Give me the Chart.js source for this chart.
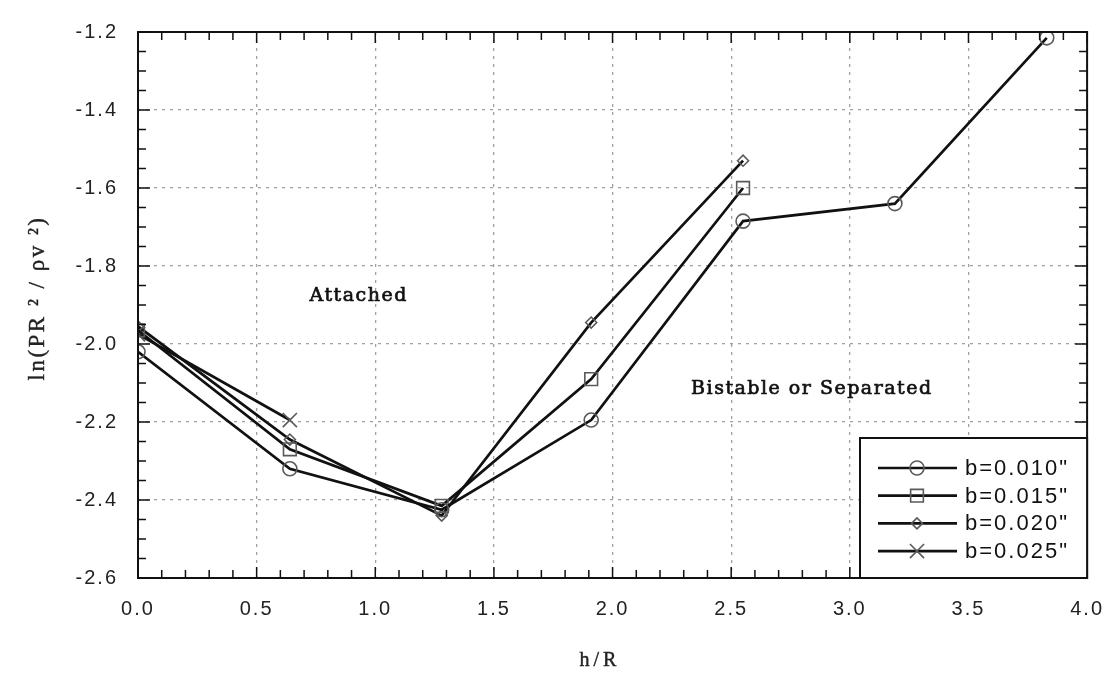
<!DOCTYPE html>
<html>
<head>
<meta charset="utf-8">
<script src="https://cdn.jsdelivr.net/npm/chart.js@4.4.1/dist/chart.umd.min.js"></script>
<style>
  html, body { margin: 0; padding: 0; background: #fff; }
  #wrap { width: 1120px; height: 680px; }
</style>
</head>
<body>
<div id="wrap"><canvas id="c" width="1120" height="680"></canvas></div>
<script>
// h/R positions of the measurements
const hR = [0, 0.64, 1.28, 1.91, 2.55, 3.19, 3.83];

// ln(PR^2/rho v^2) for each gap b
const b010 = [-2.02, -2.32, -2.425, -2.195, -1.685, -1.64, -1.215];
const b015 = [-1.965, -2.27, -2.415, -2.09, -1.60];
const b020 = [-1.955, -2.245, -2.44, -1.945, -1.53];
const b025 = [-1.975, -2.195];

const seriesLabels = ['b=0.010"', 'b=0.015"', 'b=0.020"', 'b=0.025"'];
const xTicks = [0, 0.5, 1.0, 1.5, 2.0, 2.5, 3.0, 3.5, 4.0];
const yTicks = [-2.6, -2.4, -2.2, -2.0, -1.8, -1.6, -1.4, -1.2];

const markerColor = '#5a5a5a';
const lineColor = '#111';

function pts(ys) {
    return ys.map((y, i) => ({ x: hR[i], y: y }));
}

function makeSet(label, ys, style, radius) {
    return {
        label: label,
        data: pts(ys),
        borderColor: lineColor,
        borderWidth: 2.7,
        pointStyle: style,
        pointRadius: radius,
        pointBorderColor: markerColor,
        pointBackgroundColor: 'rgba(0,0,0,0)',
        pointBorderWidth: 1.6,
        tension: 0,
        fill: false
    };
}

const datasets = [
    makeSet(seriesLabels[0], b010, 'circle', 7),
    makeSet(seriesLabels[1], b015, 'rect', 9),
    makeSet(seriesLabels[2], b020, 'rectRot', 5.5),
    makeSet(seriesLabels[3], b025, 'crossRot', 10)
];

// letter spacing like the scanned figure
const spacing = {
    id: 'spacing',
    beforeDraw(chart) {
        chart.ctx.letterSpacing = '2px';
    }
};

function heavyText(ctx, txt, x, y) {
    ctx.fillText(txt, x, y);
    ctx.strokeText(txt, x, y);
}

// frame, inward ticks, titles, notes and legend box
const decor = {
    id: 'decor',
    afterDraw(chart) {
        const ctx = chart.ctx;
        const a = chart.chartArea;
        const xs = chart.scales.x;
        const ys = chart.scales.y;
        ctx.save();
        ctx.letterSpacing = '0px';
        ctx.strokeStyle = '#111';
        ctx.lineWidth = 2;
        ctx.strokeRect(a.left, a.top, a.right - a.left, a.bottom - a.top);

        ctx.lineWidth = 1.5;
        ctx.beginPath();
        for (let i = 0; i <= 40; i++) {
            const px = xs.getPixelForValue(i / 10);
            const len = i % 5 === 0 ? 11 : 8;
            ctx.moveTo(px, a.bottom); ctx.lineTo(px, a.bottom - len);
            ctx.moveTo(px, a.top); ctx.lineTo(px, a.top + len);
        }
        for (let i = 0; i <= 28; i++) {
            const py = ys.getPixelForValue(-2.6 + i * 0.05);
            const len = i % 4 === 0 ? 12 : 8;
            ctx.moveTo(a.left, py); ctx.lineTo(a.left + len, py);
            ctx.moveTo(a.right, py); ctx.lineTo(a.right - len, py);
        }
        ctx.stroke();

        // axis titles
        ctx.fillStyle = '#222';
        ctx.strokeStyle = '#222';
        ctx.lineWidth = 0.4;
        ctx.textAlign = 'center';
        ctx.textBaseline = 'middle';
        ctx.font = '20px "Liberation Serif"';
        ctx.letterSpacing = '4px';
        heavyText(ctx, 'h/R', 600, 661);
        ctx.save();
        ctx.translate(38, 298);
        ctx.rotate(-Math.PI / 2);
        ctx.font = '23px "Liberation Serif"';
        ctx.letterSpacing = '2.5px';
        heavyText(ctx, 'ln(PR \u00b2 / \u03c1v \u00b2)', 0, 0);
        ctx.restore();

        // region notes
        ctx.fillStyle = '#111';
        ctx.strokeStyle = '#111';
        ctx.lineWidth = 0.7;
        ctx.font = '19px "DejaVu Serif"';
        ctx.letterSpacing = '1.5px';
        heavyText(ctx, 'Attached', xs.getPixelForValue(0.93), ys.getPixelForValue(-1.877));
        heavyText(ctx, 'Bistable or Separated', xs.getPixelForValue(2.84), ys.getPixelForValue(-2.115));

        // legend
        const lx = 860, ly = 438, lw = a.right - 860, lh = a.bottom - 438;
        ctx.fillStyle = '#fff';
        ctx.fillRect(lx, ly, lw, lh);
        ctx.lineWidth = 2;
        ctx.strokeStyle = '#111';
        ctx.strokeRect(lx, ly, lw, lh);
        ctx.font = '22px "Liberation Sans"';
        ctx.letterSpacing = '2px';
        ctx.textAlign = 'left';
        chart.data.datasets.forEach((ds, i) => {
            const ry = 468 + i * 27.7;
            ctx.strokeStyle = lineColor;
            ctx.lineWidth = 2.7;
            ctx.beginPath();
            ctx.moveTo(878, ry); ctx.lineTo(957, ry);
            ctx.stroke();
            ctx.strokeStyle = markerColor;
            ctx.fillStyle = 'rgba(0,0,0,0)';
            ctx.lineWidth = 1.6;
            Chart.helpers.drawPoint(ctx, { pointStyle: ds.pointStyle, radius: ds.pointRadius, borderWidth: 1.6, rotation: 0 }, 917, ry);
            ctx.fillStyle = '#111';
            ctx.fillText(ds.label, 965, ry + 1);
        });
        ctx.restore();
    }
};

new Chart(document.getElementById('c').getContext('2d'), {
    type: 'line',
    data: { datasets: datasets },
    options: {
        responsive: false,
        animation: false,
        layout: { padding: { left: 0, top: 17, right: 27, bottom: 0 } },
        plugins: { legend: { display: false }, tooltip: { enabled: false } },
        scales: {
            x: {
                type: 'linear',
                min: 0,
                max: 4,
                afterBuildTicks: (s) => { s.ticks = xTicks.map(v => ({ value: v })); },
                afterFit: (s) => { s.height = 102; },
                grid: { color: '#a0a0a0', lineWidth: 1.3, drawTicks: false },
                border: { display: false, dash: [3, 5] },
                ticks: {
                    color: '#222',
                    padding: 19,
                    font: { family: 'Liberation Sans', size: 20 },
                    callback: (v) => Number(v).toFixed(1)
                }
            },
            y: {
                type: 'linear',
                min: -2.6,
                max: -1.2,
                afterBuildTicks: (s) => { s.ticks = yTicks.map(v => ({ value: v })); },
                afterFit: (s) => { s.width = 138; },
                grid: { color: '#a0a0a0', lineWidth: 1.3, drawTicks: false },
                border: { display: false, dash: [3, 5] },
                ticks: {
                    color: '#222',
                    padding: 20,
                    font: { family: 'Liberation Sans', size: 20 },
                    callback: (v) => Number(v).toFixed(1)
                }
            }
        }
    },
    plugins: [spacing, decor]
});
</script>
</body>
</html>
